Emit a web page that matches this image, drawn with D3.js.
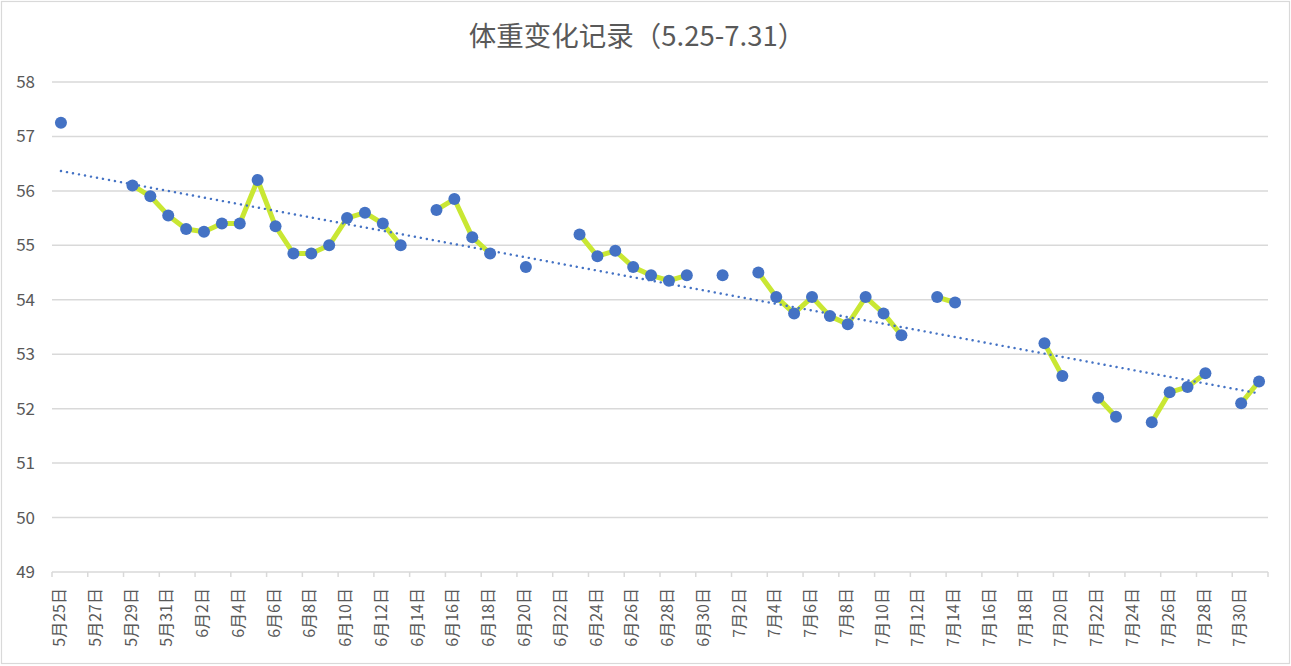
<!DOCTYPE html>
<html>
<head>
<meta charset="utf-8">
<script src="https://cdn.jsdelivr.net/npm/d3@7.9.0/dist/d3.min.js"></script>
<style>
  html, body { margin: 0; padding: 0; background: #fff; }
  svg { display: block; font-family: "Noto Sans CJK SC", "Noto Sans", sans-serif; }
</style>
</head>
<body>
<svg id="chart" width="1291" height="666"></svg>
<script>
const title = '体重变化记录（5.25-7.31）';

// one category per day, 5/25 .. 7/31
const days = [
  '5月25日','5月26日','5月27日','5月28日','5月29日','5月30日','5月31日',
  '6月1日','6月2日','6月3日','6月4日','6月5日','6月6日','6月7日','6月8日','6月9日','6月10日',
  '6月11日','6月12日','6月13日','6月14日','6月15日','6月16日','6月17日','6月18日','6月19日','6月20日',
  '6月21日','6月22日','6月23日','6月24日','6月25日','6月26日','6月27日','6月28日','6月29日','6月30日',
  '7月1日','7月2日','7月3日','7月4日','7月5日','7月6日','7月7日','7月8日','7月9日','7月10日',
  '7月11日','7月12日','7月13日','7月14日','7月15日','7月16日','7月17日','7月18日','7月19日','7月20日',
  '7月21日','7月22日','7月23日','7月24日','7月25日','7月26日','7月27日','7月28日','7月29日','7月30日',
  '7月31日'
];

// weight (kg), null = no record that day
const weights = [
  57.25, null, null, null, 56.1, 55.9, 55.55,
  55.3, 55.25, 55.4, 55.4, 56.2, 55.35, 54.85, 54.85, 55.0, 55.5,
  55.6, 55.4, 55.0, null, 55.65, 55.85, 55.15, 54.85, null, 54.6,
  null, null, 55.2, 54.8, 54.9, 54.6, 54.45, 54.35, 54.45, null,
  54.45, null, 54.5, 54.05, 53.75, 54.05, 53.7, 53.55, 54.05, 53.75,
  53.35, null, 54.05, 53.95, null, null, null, null, 53.2, 52.6,
  null, 52.2, 51.85, null, 51.75, 52.3, 52.4, 52.65, null, 52.1,
  52.5
];

const yTicks = [49, 50, 51, 52, 53, 54, 55, 56, 57, 58];

const width = 1291, height = 666;
const plot = { left: 52, right: 1268, top: 82, bottom: 572 };

const svg = d3.select('#chart');

// chart border
svg.append('rect')
  .attr('x', 1.5).attr('y', 1.5)
  .attr('width', width - 3).attr('height', height - 4)
  .attr('fill', '#fff')
  .attr('stroke', '#d9d9d9')
  .attr('stroke-width', 1.2);

const x = d3.scaleBand().domain(d3.range(days.length)).range([plot.left, plot.right]).padding(0);
const cx = i => x(i) + x.bandwidth() / 2;
const y = d3.scaleLinear().domain([49, 58]).range([plot.bottom, plot.top]);

// title
svg.append('text')
  .attr('x', 637).attr('y', 46)
  .attr('text-anchor', 'middle')
  .attr('fill', '#595959')
  .style('font-size', '27.5px')
  .text(title);

// gridlines
svg.append('g')
  .selectAll('line')
  .data(yTicks.slice(1))
  .join('line')
  .attr('x1', plot.left).attr('x2', plot.right)
  .attr('y1', d => y(d)).attr('y2', d => y(d))
  .attr('stroke', '#d9d9d9')
  .attr('stroke-width', 1.5);

// y labels
svg.append('g')
  .selectAll('text')
  .data(yTicks)
  .join('text')
  .attr('x', 35)
  .attr('y', d => y(d))
  .attr('dy', '0.35em')
  .attr('text-anchor', 'end')
  .attr('fill', '#595959')
  .style('font-size', '17px')
  .text(d => d);

// x axis line + ticks every 2 days
const ax = svg.append('g');
ax.append('line')
  .attr('x1', plot.left).attr('x2', plot.right)
  .attr('y1', plot.bottom).attr('y2', plot.bottom)
  .attr('stroke', '#d9d9d9').attr('stroke-width', 1.5);

const tickIdx = d3.range(0, days.length + 1, 2);
ax.selectAll('line.tick')
  .data(tickIdx)
  .join('line')
  .attr('class', 'tick')
  .attr('x1', i => i < days.length ? x(i) : plot.right)
  .attr('x2', i => i < days.length ? x(i) : plot.right)
  .attr('y1', plot.bottom).attr('y2', plot.bottom + 5)
  .attr('stroke', '#d9d9d9').attr('stroke-width', 1.5);

ax.selectAll('text')
  .data(d3.range(0, days.length, 2))
  .join('text')
  .attr('transform', i => `translate(${cx(i) - 1.5},588) rotate(-90)`)
  .attr('dy', '0.35em')
  .attr('text-anchor', 'end')
  .attr('fill', '#595959')
  .style('font-size', '16px')
  .text(i => days[i]);

// linear trend (least squares on day index)
const pts = weights.map((w, i) => [i, w]).filter(d => d[1] != null);
const mx = d3.mean(pts, d => d[0]), my = d3.mean(pts, d => d[1]);
const slope = d3.sum(pts, d => (d[0] - mx) * (d[1] - my)) / d3.sum(pts, d => (d[0] - mx) ** 2);
const icpt = my - slope * mx;
const trendEnds = [0, days.length - 1];

// series line (gaps where no record)
const line = d3.line()
  .defined(d => d != null)
  .x((d, i) => cx(i))
  .y(d => y(d));

svg.append('path')
  .datum(weights)
  .attr('d', line)
  .attr('fill', 'none')
  .attr('stroke', '#c9e733')
  .attr('stroke-width', 5)
  .attr('stroke-linejoin', 'round');

svg.append('line')
  .attr('x1', cx(trendEnds[0])).attr('y1', y(icpt + slope * trendEnds[0]))
  .attr('x2', cx(trendEnds[1])).attr('y2', y(icpt + slope * trendEnds[1]))
  .attr('stroke', '#4472c4')
  .attr('stroke-width', 2.4)
  .attr('stroke-linecap', 'round')
  .attr('stroke-dasharray', '0.1 6');

// markers
svg.append('g')
  .selectAll('circle')
  .data(pts)
  .join('circle')
  .attr('cx', d => cx(d[0]))
  .attr('cy', d => y(d[1]))
  .attr('r', 6)
  .attr('fill', '#4472c4');
</script>
</body>
</html>
